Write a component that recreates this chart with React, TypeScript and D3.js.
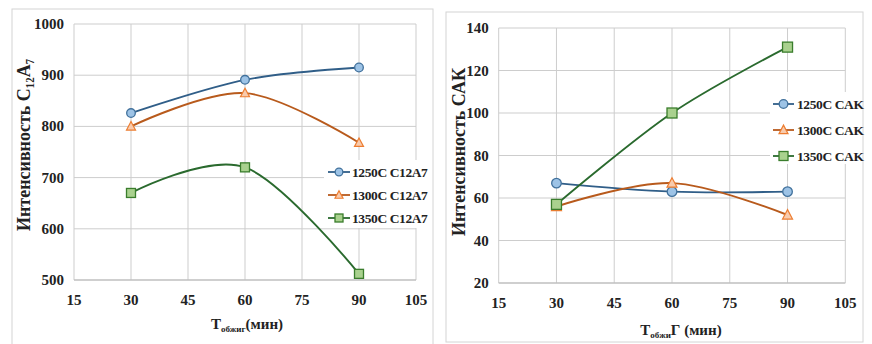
import React from "react";
import * as d3 from "d3";

const xTicks = [15, 30, 45, 60, 75, 90, 105];
const xValues = [30, 60, 90];

const leftYTicks = [500, 600, 700, 800, 900, 1000];
const leftNames = ["1250C C12A7", "1300C C12A7", "1350C C12A7"];
const left1250 = [826, 891, 915];
const left1300 = [800, 865, 768];
const left1350 = [670, 720, 512];

const rightYTicks = [20, 40, 60, 80, 100, 120, 140];
const rightNames = ["1250C CAK", "1300C CAK", "1350C CAK"];
const right1250 = [67, 63, 63];
const right1300 = [56, 67, 52];
const right1350 = [57, 100, 131];

const STYLES = [
  { line: "#305E88", fill: "#9DC3E6", stroke: "#41719C", shape: "circle" },
  { line: "#B85A1C", fill: "#F8CBAD", stroke: "#ED7D31", shape: "triangle" },
  { line: "#2A6A2E", fill: "#A9D18E", stroke: "#3A7D2C", shape: "square" },
];

const FONT = '"Liberation Serif", "Times New Roman", "DejaVu Serif", serif';
const TS: any = { fontFamily: FONT, fontWeight: "bold" };

function Marker({ shape, x, y, s, fill, stroke }: any) {
  if (shape === "circle")
    return <circle cx={x} cy={y} r={s * 0.48} fill={fill} stroke={stroke} strokeWidth={1.3} />;
  if (shape === "square")
    return <rect x={x - s / 2} y={y - s / 2} width={s} height={s} fill={fill} stroke={stroke} strokeWidth={1.3} />;
  const h = s * 0.9;
  return (
    <path
      d={`M${x},${y - h * 0.6}L${x + s / 2},${y + h * 0.45}L${x - s / 2},${y + h * 0.45}Z`}
      fill={fill}
      stroke={stroke}
      strokeWidth={1.2}
    />
  );
}

function Chart({ frame, plot, yDomain, yTicks, series, names, legend, yTitle, xSub, xRest, xTitlePos, markerSize, tickBase }: any) {
  const x = d3.scaleLinear().domain([15, 105]).range([plot.l, plot.r]);
  const y = d3.scaleLinear().domain(yDomain).range([plot.b, plot.t]);
  const line = d3
    .line<number>()
    .x((_, i) => x(xValues[i]))
    .y((d) => y(d))
    .curve(d3.curveCardinal.tension(0));
  return (
    <g>
      <rect x={frame.x} y={frame.y} width={frame.w} height={frame.h} fill="#fff" stroke="#d4d4d4" strokeWidth={1} />
      {yTicks.map((t: number) => (
        <line key={"h" + t} x1={plot.l} x2={plot.r} y1={y(t)} y2={y(t)} stroke="#cdcdcd" strokeWidth={1} />
      ))}
      {xTicks.map((t: number) => (
        <line key={"v" + t} x1={x(t)} x2={x(t)} y1={plot.t} y2={plot.b} stroke="#cdcdcd" strokeWidth={1} />
      ))}
      <line x1={plot.l} x2={plot.r} y1={plot.b} y2={plot.b} stroke="#b8b8b8" strokeWidth={1} />
      {yTicks.map((t: number) => (
        <text key={"yl" + t} x={plot.l - 10} y={y(t) + 5} textAnchor="end" style={TS} fontSize={15} fill="#222">
          {t}
        </text>
      ))}
      {xTicks.map((t: number) => (
        <text key={"xl" + t} x={x(t)} y={tickBase} textAnchor="middle" style={TS} fontSize={15} fill="#222">
          {t}
        </text>
      ))}
      <text
        transform={`translate(${yTitle.x},${yTitle.y}) rotate(-90)`}
        textAnchor="middle"
        style={TS}
        fontSize={yTitle.size}
        fill="#222"
      >
        {yTitle.content}
      </text>
      <text x={xTitlePos.x} y={xTitlePos.y} textAnchor="middle" style={TS} fontSize={15} fill="#222">
        T<tspan fontSize={9} dy={3}>{xSub}</tspan>
        <tspan dy={-3}>{xRest}</tspan>
      </text>
      {series.map((s: number[], i: number) => (
        <path key={"l" + i} d={line(s) || ""} fill="none" stroke={STYLES[i].line} strokeWidth={1.9} />
      ))}
      {series.map((s: number[], i: number) =>
        s.map((v, j) => (
          <Marker key={"m" + i + j} shape={STYLES[i].shape} x={x(xValues[j])} y={y(v)} s={markerSize} fill={STYLES[i].fill} stroke={STYLES[i].stroke} />
        ))
      )}
      <rect x={legend.bx} y={legend.by} width={legend.bw} height={legend.bh} fill="#fff" />
      {names.map((n: string, i: number) => {
        const ly = legend.rows[i];
        return (
          <g key={"lg" + i}>
            <line x1={legend.x1} x2={legend.x2} y1={ly} y2={ly} stroke={STYLES[i].line} strokeWidth={1.8} />
            <Marker shape={STYLES[i].shape} x={(legend.x1 + legend.x2) / 2} y={ly} s={markerSize - 1} fill={STYLES[i].fill} stroke={STYLES[i].stroke} />
            <text x={legend.tx} y={ly + 5} style={{ ...TS, letterSpacing: "-0.4px" }} fontSize={13.5} fill="#222">
              {n}
            </text>
          </g>
        );
      })}
    </g>
  );
}

export default function App() {
  return (
    <svg width={872} height={344} style={{ position: "absolute", left: 0, top: 0, background: "#fff" }}>
      <Chart
        frame={{ x: 12, y: 9, w: 421, h: 340 }}
        plot={{ l: 74, r: 416, t: 24, b: 280 }}
        yDomain={[500, 1000]}
        yTicks={leftYTicks}
        series={[left1250, left1300, left1350]}
        names={leftNames}
        legend={{ bx: 324, by: 160, bw: 106, bh: 68, x1: 328, x2: 350, tx: 352, rows: [172, 195, 218] }}
        yTitle={{ x: 30, y: 145, content: "Интенсивность  C₁₂A₇", size: 18 }}
        xSub="обжиг"
        xRest="(мин)"
        xTitlePos={{ x: 247, y: 329 }}
        markerSize={9}
        tickBase={305}
      />
      <Chart
        frame={{ x: 446, y: 12, w: 417, h: 330 }}
        plot={{ l: 498.7, r: 845.3, t: 28, b: 283 }}
        yDomain={[20, 140]}
        yTicks={rightYTicks}
        series={[right1250, right1300, right1350]}
        names={rightNames}
        legend={{ bx: 770, by: 92, bw: 92, bh: 72, x1: 773, x2: 794, tx: 797, rows: [104, 130, 156] }}
        yTitle={{ x: 465, y: 152, content: "Интенсивность  САК", size: 18 }}
        xSub="обжи"
        xRest="Г (мин)"
        xTitlePos={{ x: 681, y: 335 }}
        markerSize={10}
        tickBase={308}
      />
    </svg>
  );
}
